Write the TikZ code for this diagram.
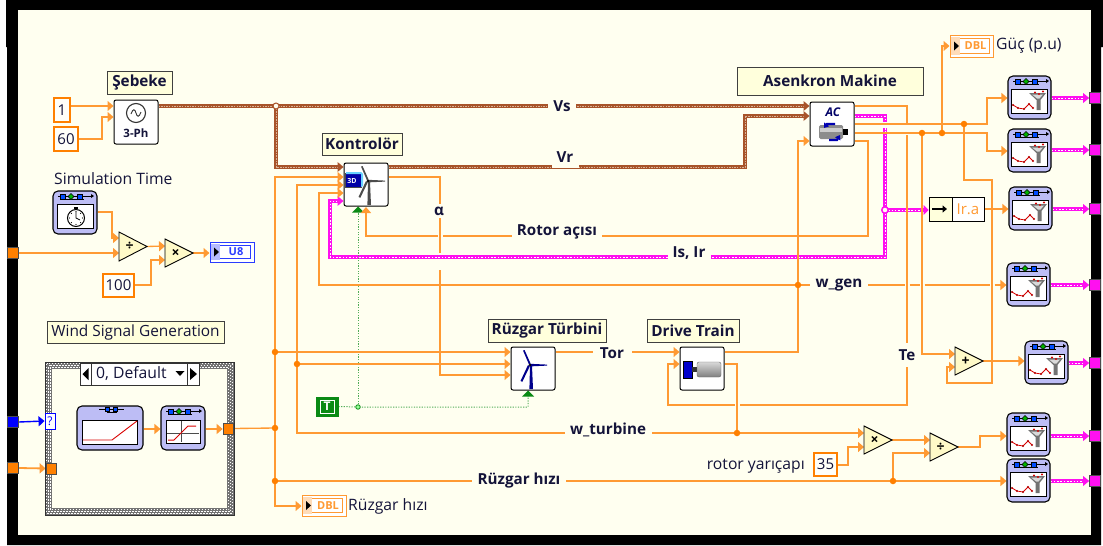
\documentclass[tikz,border=0pt]{standalone}
\usepackage{fontspec}
\setmainfont{Open Sans}
\usetikzlibrary{arrows.meta}
\pgfdeclarelayer{bgl}\pgfdeclarelayer{wires}\pgfsetlayers{bgl,wires,main}
\definecolor{bgc}{HTML}{FFFFF0}
\definecolor{wirec}{HTML}{FF9A33}
\definecolor{termc}{HTML}{FF8000}
\definecolor{brownc}{HTML}{A8542A}
\definecolor{magc}{HTML}{FF10F0}
\definecolor{greenc}{HTML}{0A8A14}
\definecolor{inkc}{HTML}{14143A}
\definecolor{vic}{HTML}{BDBDF5}
\definecolor{lblc}{HTML}{FFFFDC}
\definecolor{primc}{HTML}{FFFAC8}
\definecolor{u8c}{HTML}{2A3CFF}
\tikzset{
 x=1pt,y=-1pt,
 every node/.style={inner sep=0pt,text=inkc},
 wire/.style={draw=wirec,line width=1.35pt,line join=miter},
 arr/.style={-{Triangle[length=6pt,width=10pt,sep=0pt]}},
 brownwire/.style={draw=brownc,line width=3.8pt,postaction={draw=bgc!55!brownc,line width=1pt,dash pattern=on 1.5pt off 1.1pt}},
 magwire/.style={draw=magc,line width=3.8pt,postaction={draw=white,line width=.9pt,dash pattern=on 1.5pt off 1.8pt}},
 greenwire/.style={draw=greenc!70!white,line width=1pt,dash pattern=on 1.2pt off 1.4pt},
 dot/.style={circle,fill=termc,minimum size=6.5pt},
 wlabel/.style={fill=bgc,font=\bfseries\fontsize{15.2}{16}\selectfont,inner xsep=3pt,inner ysep=2pt},
 plain/.style={font=\fontsize{15.7}{17}\selectfont},
 boxlabel/.style={draw=black!75,line width=1pt,fill=lblc,font=\bfseries\fontsize{15.3}{16}\selectfont},
 constbox/.style={draw=termc,line width=2.4pt,fill=bgc!40!white,font=\fontsize{15}{16}\selectfont,text=inkc},
 prim/.style={draw=black,line width=1pt,fill=white,rounded corners=2pt},
 vibox/.style={draw=black,line width=1.1pt,fill=vic,rounded corners=5pt},
 terminal/.style={draw=black!70,line width=.7pt,minimum size=11pt},
}
\newcommand\bx[7][]{\node[#1,minimum width={(#5-#3)*1pt},minimum height={(#6-#4)*1pt}] (#2) at ({(#3+#5)/2},{(#4+#6)/2}) {#7};}
\newcommand\vistrip{%
 \draw[line width=.8pt] (5,5)--(38,5);
 \fill (38,3)--(41,5)--(38,7)--cycle;
 \draw[line width=.7pt] (13,8)--(31,8);
 \draw[fill=blue!70!cyan,line width=.5pt] (7,3) rectangle (12,8);
 \draw[fill=blue!70!cyan,line width=.5pt] (24,3) rectangle (29,8);
 \draw[fill=green!70!black,line width=.4pt] (18,2.5)--(21,5.5)--(18,8.5)--(15,5.5)--cycle;
}
\newcommand\filtervi[3]{%
 \bx[vibox]{#1}{#2}{#3}{#2+43}{#3+43}{}
 \begin{scope}[shift={(#2,#3)}]
  \vistrip
  \draw[black,fill=white,line width=.8pt] (3.5,13) rectangle (39.5,37.5);
  \draw[red!85!black,line width=.8pt] (5,29)--(10,32)--(16,33)--(21,28)--(25,32);
  \foreach \p in {(5,29),(10,32),(16,33),(21,28),(25,32)} \fill[red!70!black] \p circle (1.1pt);
  \fill[black!55] (21,17)--(38,17)--(32.5,24)--(32.5,34)--(28.5,34)--(28.5,24)--cycle;
  \fill[black!15] (24,18.5)--(35,18.5)--(31.5,22.5)--(29,22.5)--cycle;
  \fill[red!85!black] (27,16.5) circle (1.1pt) (35,15.5) circle (1.1pt) (31,18) circle (1.1pt);
 \end{scope}}
\newcommand\blades[3]{%
 \fill[#3] (#1,#2)++(-1,-.5)--++(-6,-14)--++(1.6,-.4)--++(6,13.5)--cycle;
 \fill[#3] (#1,#2)++(0,-1.2)--++(17,.8)--++(0,1)--++(-17,.8)--cycle;
 \fill[#3] (#1,#2)++(-2,0)--++(-7.5,16)--++(1.8,.8)--++(7.5,-15.5)--cycle;
 \fill[#3] (#1,#2)++(0,1)--++(2,0)--++(1,23)--++(-3.6,0)--cycle;
 \fill[black] (#1,#2) circle (1.4pt);
}
\newcommand\numind[7]{%
 \bx[draw=#6,line width=1pt,fill=white]{#1}{#2}{#3}{#2+#4}{#3+#5}{}
 \draw[#6,line width=1pt,fill=white] (#2+3,#3+3.5) rectangle (#2+#4-4,#3+#5-3.5);
 \fill[#6!35!white] (#2+1,#3+2) rectangle (#2+10,#3+#5-2);
 \fill[black] (#2+4,#3+#5/2-4.5)--(#2+9,#3+#5/2)--(#2+4,#3+#5/2+4.5)--cycle;
 \node[font=\bfseries\fontsize{11}{12}\selectfont,text=#6] at (#2+#4/2+4,#3+#5/2) {#7};
}
\newcommand\primtri[6]{%
 \fill[primc,draw=black,line width=.9pt,line join=miter] (#2,#3)--(#2,#3+#4)--(#2+28,#3+#4/2)--cycle;
 \node[font=\bfseries\fontsize{14}{14}\selectfont,text=black] (#1) at (#2+10.5,#3+#4/2) {#5};
 \coordinate (#1-w) at (#2,#3+#4/2);
 \coordinate (#1-e) at (#2+28,#3+#4/2);
}
\begin{document}
\begin{tikzpicture}
\useasboundingbox (0,0) rectangle (1103,546);
\begin{pgfonlayer}{bgl}
\fill[white] (0,0) rectangle (1103,546);
\fill[black] (6,0)--(1103,0)--(1103,47)--(1101,47)--(1101,545)--(7,545)--(7,47)--(6,47)--cycle;
\fill[bgc] (18,10) rectangle (1091,535);
\end{pgfonlayer}

\bx[boxlabel]{lseb}{107}{71}{172}{94}{Şebeke}
\bx[boxlabel]{lkon}{322}{133}{402}{155}{Kontrolör}
\bx[boxlabel]{lasy}{737}{67}{923}{95}{Asenkron Makine}
\bx[boxlabel]{ltur}{488}{319}{606}{342}{Rüzgar Türbini}
\bx[boxlabel]{ldrv}{647}{319}{739}{342}{Drive Train}
\bx[draw=black!75,line width=1pt,fill=lblc,font=\fontsize{15.4}{16}\selectfont]{lwind}{47}{321}{224}{343}{Wind Signal Generation}

\bx[constbox]{c1}{54}{98}{70}{122}{1}
\bx[constbox]{c60}{54}{127}{78}{151}{60}
\bx[constbox]{c100}{103}{274}{134}{297}{100}
\bx[constbox]{c35}{814}{453}{837}{476}{35}

\bx[prim]{grid}{114}{100}{158}{144}{}
\draw[black!80,line width=1.1pt] (136,113) circle (9.5);
\draw[black!80,line width=.9pt] (131,114) .. controls (133,108) and (135,109) .. (136,113) .. controls (137,117) and (139,118) .. (141,112);
\node[font=\bfseries\fontsize{11.5}{12}\selectfont] (gridt) at (136,133) {3-Ph};

\bx[prim]{kon}{344}{163}{388}{206}{}
\blades{368}{181}{black!70}
\fill[blue!65!black,draw=black!70,line width=.5pt] (345,173) rectangle (361,187);
\fill[blue!30!cyan!60!white] (346,172)--(361,172)--(363,174)--(363,186)--(361,187)--(361,174)--(346,174)--cycle;
\node[font=\bfseries\fontsize{7}{7}\selectfont,text=white] (kont) at (352,181) {3D};

\bx[prim]{ac}{810}{102}{854}{146}{}
\node[font=\bfseries\itshape\fontsize{12}{12}\selectfont,text=blue!40!black] (act) at (833,112) {AC};
\fill[black!45,rounded corners=1.5pt] (819,125) rectangle (843,139);
\fill[black!20] (820,128) rectangle (842,132);
\fill[black] (843,129) rectangle (848,135);
\draw[blue!70!black,line width=2.2pt,-{Triangle[length=4.5pt,width=6pt]}] (835,124)--(827,124)--(824,128);
\draw[blue!70!black,line width=2.2pt,-{Triangle[length=4.5pt,width=6pt]}] (829,140)--(837,140)--(840,135);

\bx[prim]{tur}{511}{347}{555}{390}{}
\blades{530}{365}{blue!55!black}

\bx[prim]{drv}{680}{347}{724}{390}{}
\fill[blue!80!black,draw=black,line width=.6pt] (683,361) rectangle (692,378);
\fill[black!80] (692,367) rectangle (698,372);
\shade[top color=black!15,bottom color=black!50,rounded corners=2pt,draw=black!60] (697,362) rectangle (721,377);

\bx[vibox]{timer}{53}{191}{97}{234}{}
\begin{scope}[shift={(53,191)}]
 \vistrip
 \draw[fill=white,line width=.8pt] (4,13.5) rectangle (40,37.5);
 \draw[fill=white,line width=1pt] (23,27) circle (8.5);
 \fill (21,15.5) rectangle (25,17.5);
 \draw[line width=.8pt] (23,21)--(23,27)--(27,29);
 \foreach \a in {0,45,...,315} \fill (23,27)++(\a:6.5) circle (.6pt);
\end{scope}
\node[plain,anchor=west] (simt) at (54,179) {Simulation Time};

\primtri{dv}{119}{232}{29}{÷}{}
\primtri{mu}{165}{239}{28}{×}{}
\primtri{mt}{864}{426}{28}{×}{}
\primtri{dt}{930}{433}{28}{÷}{}
\primtri{pl}{955}{347}{28}{+}{}

\numind{u8}{210}{242}{44}{20}{u8c}{U8}
\numind{dblw}{302}{495}{44}{21}{wirec}{DBL}
\numind{dblp}{950}{35}{43}{22}{wirec}{DBL}
\node[plain,anchor=west] (tw) at (348,506) {Rüzgar hızı};
\node[plain,anchor=west] (tp) at (996,46) {Güç (p.u)};
\node[plain,anchor=east] (try) at (805,466) {rotor yarıçapı};

\bx[draw=black,line width=1pt,fill=white]{ira}{929}{197}{984}{221}{}
\fill[lblc,draw=black,line width=.8pt] (929,197) rectangle (952,221);
\draw[black,line width=2pt,-{Triangle[length=4.5pt,width=7pt]}] (932,209)--(947,209);
\node[font=\fontsize{15}{16}\selectfont,text=wirec] (irat) at (968,209) {Ir.a};

\filtervi{f1}{1008}{76}
\filtervi{f2}{1008}{129}
\filtervi{f3}{1009}{187}
\filtervi{f4}{1007}{263}
\filtervi{f5}{1025}{341}
\filtervi{f6}{1007}{413}
\filtervi{f7}{1007}{459}

\foreach \n/\y in {t1/98,t2/150,t3/209,t4/285,t5/363,t6/436,t7/481}
  \node[terminal,fill=magc] (\n) at (1095,\y) {};
\node[terminal,fill=termc] (tl1) at (13,253) {};
\node[terminal,fill=blue] (tl2) at (13,422) {};
\node[terminal,fill=termc] (tl3) at (13,468) {};

\bx[draw=black,line width=1pt]{case}{45}{362}{234}{515}{}
\draw[black!55,line width=6.5pt] (48.5,365.5) rectangle (230.5,511.5);
\draw[white,line width=1.3pt,dash pattern=on 1.5pt off 1.5pt] (46.8,363.8) rectangle (232.2,513.2);
\draw[white,line width=1.3pt,dash pattern=on 1.5pt off 1.5pt,dash phase=1.5pt] (48.5,365.5) rectangle (230.5,511.5);
\draw[white,line width=1.3pt,dash pattern=on 1.5pt off 1.5pt] (50.2,367.2) rectangle (228.8,509.8);
\draw[black!80,line width=.9pt] (45,362) rectangle (234,515);
\bx[draw=black!80,line width=1pt,fill=white]{sel}{80}{363}{199}{385}{}
\draw[black!80,line width=.8pt] (91,363)--(91,385) (187,363)--(187,385);
\node[plain,anchor=west] (selt) at (96,374) {0, Default};
\fill (88.5,368)--(88.5,380)--(82.5,374)--cycle;
\fill (190,368)--(190,380)--(197,374)--cycle;
\fill (175.5,371)--(184.5,371)--(180,376)--cycle;

\bx[draw=blue,line width=.9pt,fill=white,font=\fontsize{12}{12}\selectfont,text=blue]{tq}{45}{413}{55}{429}{?}
\bx[terminal,fill=termc]{ts}{46}{463}{56}{474}{}
\bx[terminal,fill=termc]{to}{223}{423}{233}{434}{}

\bx[vibox]{ramp}{77}{406}{143}{450}{}
\begin{scope}[shift={(77,406)}]
 \draw[line width=.8pt] (22,3)--(47,3) (30,6)--(40,6);
 \draw[fill=blue!70!cyan,line width=.4pt] (28,1) rectangle (32,5);
 \draw[fill=blue!70!cyan,line width=.4pt] (36,1) rectangle (40,5);
 \draw[fill=white,line width=.8pt] (5,14) rectangle (60,38);
 \draw[red!85!black,line width=.9pt] (6,34)--(35,34)--(60,15);
\end{scope}
\bx[vibox]{sat}{161}{406}{205}{450}{}
\begin{scope}[shift={(161,406)}]
 \vistrip
 \draw[fill=white,line width=.8pt] (5,14) rectangle (39,37);
 \draw[black!70,line width=.8pt] (6,27)--(38,27) (20,15)--(20,36);
 \draw[red!85!black,line width=1pt] (7,34)--(13,34)--(27,20)--(35,20);
\end{scope}

\bx[draw=greenc,line width=1pt,fill=greenc]{tc}{316}{397}{338}{416}{}
\bx[draw=white,line width=.9pt,fill=greenc,font=\bfseries\fontsize{12}{12}\selectfont,text=white]{tci}{320}{400}{334}{413}{T}

\node[dot] (j275a) at (275,352) {};
\node[dot] (j275b) at (275,428) {};
\node[dot] (j275c) at (275,481) {};
\node[dot] (j297) at (297,364) {};
\node[dot] (jgen) at (798,285) {};
\node[dot] (jturb) at (737,433) {};
\node[dot] (jwind) at (893,481) {};
\node[dot] (jp1) at (964,124) {};
\node[dot] (jp2) at (922,133) {};
\node[dot] (jp3) at (942,133) {};
\node[circle,draw=brownc,line width=1pt,fill=bgc,minimum size=6pt] (jgrid) at (276,106) {};
\node[circle,draw=magc,line width=1.5pt,fill=bgc,minimum size=6.5pt] (jI) at (885,210) {};
\node[circle,draw=greenc,line width=.8pt,fill=green!40!white,minimum size=4.5pt] (jT) at (358,407) {};

\node[wlabel,minimum width=28pt,minimum height=18pt] (Vs) at (562,106) {Vs};
\node[wlabel,minimum width=27pt,minimum height=21pt] (Vr) at (565,157) {Vr};
\node[wlabel,inner ysep=3pt,inner xsep=4pt] (al) at (439,211) {α};
\node[wlabel,minimum width=90pt,minimum height=20pt] (ro) at (557,232) {Rotor açısı};
\node[wlabel,minimum width=43pt,minimum height=20pt] (isr) at (689,253) {Is, Ir};
\node[wlabel,minimum width=39pt] (tor) at (612,353) {Tor};
\node[wlabel,minimum width=87pt,minimum height=20pt] (wtb) at (608,430) {w\_turbine};
\node[wlabel,minimum width=94pt] (rh) at (519,481) {Rüzgar hızı};
\node[wlabel,minimum width=58pt,minimum height=16pt] (wg) at (839,285) {w\_gen};
\node[wlabel,minimum height=24pt,inner xsep=2pt] (te) at (907,355) {Te};

\begin{pgfonlayer}{wires}
 \draw[brownwire] (grid.east |- 0,106) -- (jgrid.center) -- (804,106);
 \draw[brownwire] (jgrid.center) -- (276,167) -- (338,167);
 \draw[brownwire] (kon.east |- 0,167) -- (745,167) -- (745,116) -- (804,116);
 \fill[brownc] (kon.west |- 0,167) -- ++(-6,-5) -- ++(0,10) -- cycle;
 \fill[brownc] (ac.west |- 0,106) -- ++(-6,-5) -- ++(0,10) -- cycle;
 \fill[brownc] (ac.west |- 0,116) -- ++(-6,-5) -- ++(0,10) -- cycle;
 \draw[magwire] (ac.east |- 0,116) -- (885,116) -- (885,122);
 \draw[magwire] (885,128) -- (jI.center) -- (885,257) -- (330,257) -- (330,201) -- (338,201);
 \draw[magwire] (jI.center) -- (924,210);
 \fill[magc] (kon.west |- 0,201) -- ++(-6,-5) -- ++(0,10) -- cycle;
 \fill[magc] (ira.west |- 0,210) -- ++(-5,-5) -- ++(0,10) -- cycle;
 \foreach \f/\t/\y in {f1/t1/98,f2/t2/150,f3/t3/209,f4/t4/285,f5/t5/363,f6/t6/436,f7/t7/481}{
  \draw[magwire] (\f.east |- 0,\y) -- ([xshift=-5pt]\t.west);
  \fill[magc] (\t.west) -- ++(-6,-5) -- ++(0,10) -- cycle;
 }
 \draw[draw=blue,line width=1.4pt,arr] (tl2.east) -- (tq.west);
 \draw[greenwire] (tc.east) -- (jT.center) -- (528,407) -- (528,396);
 \draw[greenwire] (jT.center) -- (358,212);
 \fill[greenc] (358,206.5) -- ++(-6,6) -- ++(12,0) -- cycle;
 \fill[greenc] (528,390.5) -- ++(-6,6) -- ++(12,0) -- cycle;
 \draw[wire,arr] (c1.east |- 0,106) -- (grid.west |- 0,106);
 \draw[wire,arr] (c60.east |- 0,139) -- (102,139) -- (102,117) -- (grid.west |- 0,117);
 \draw[wire,arr] (timer.east |- 0,212) -- (112,212) -- (112,238) -- (dv-w |- 0,238);
 \draw[wire,arr] (tl1.east) -- (dv-w |- 0,253);
 \draw[wire,arr] (dv-e) -- (mu-w |- 0,246);
 \draw[wire,arr] (c100.east |- 0,285) -- (151,285) -- (151,260) -- (mu-w |- 0,260);
 \draw[wire,arr] (mu-e) -- (u8.west |- 0,253);
 \draw[wire,line width=1.8pt,arr] (tl3.east) -- (ts.west);
 \draw[wire,arr] (ramp.east |- 0,429) -- (sat.west |- 0,429);
 \draw[wire,arr] (sat.east |- 0,429) -- (to.west |- 0,429);
 \draw[wire] (to.east) -- (j275b.center);
 \draw[wire,arr] (j275a.center) -- (275,177) -- (kon.west |- 0,177);
 \draw[wire] (j275a.center) -- (j275b.center) -- (j275c.center);
 \draw[wire,arr] (j275c.center) -- (275,506) -- (dblw.west |- 0,506);
 \draw[wire,arr] (j275a.center) -- (tur.west |- 0,352);
 \draw[wire,arr] (j297.center) -- (tur.west |- 0,364);
 \draw[wire,arr] (j297.center) -- (297,185) -- (kon.west |- 0,185);
 \draw[wire] (j297.center) -- (297,433) -- (jturb.center);
 \draw[wire,arr] (jturb.center) -- (mt-w |- 0,433);
 \draw[wire,arr] (jgen.center) -- (319,285) -- (319,193) -- (kon.west |- 0,193);
 \draw[wire] (jgen.center) -- (904.5,285) (909.5,285) -- (919.5,285) (924.5,285) -- (989.5,285);
 \draw[wire,arr] (994.5,285) -- (f4.west |- 0,285);
 \draw[wire] (kon.east |- 0,177) -- (440,177) -- (440,253);
 \draw[wire,arr] (440,270) -- (440,375) -- (tur.west |- 0,375);
 \draw[wire,arr] (ac.east |- 0,141) -- (868,141) -- (868,236) -- (442.5,236) (437.5,236) -- (366,236) -- (366,207);
 \draw[wire,arr] (tur.east |- 0,352) -- (drv.west |- 0,352);
 \draw[wire,arr] (drv.east |- 0,352) -- (798,352) -- (jgen.center) -- (798,141) -- (ac.west |- 0,141);
 \draw[wire] (ac.east |- 0,106) -- (907,106) -- (907,123);
 \draw[wire,arr] (907,135) -- (907,405) -- (739.5,405) (734.5,405) -- (668,405) -- (668,364) -- (drv.west |- 0,364);
 \draw[wire] (drv.east |- 0,364) -- (737,364) -- (jturb.center);
 \draw[wire] (ac.east |- 0,124) -- (jp1.center);
 \draw[wire,arr] (jp1.center) -- (987,124) -- (987,98) -- (f1.west |- 0,98);
 \draw[wire] (ac.east |- 0,133) -- (jp2.center) -- (jp3.center);
 \draw[wire,arr] (jp3.center) -- (987,133) -- (987,151) -- (f2.west |- 0,151);
 \draw[wire,arr] (jp3.center) -- (942,46) -- (dblp.west |- 0,46);
 \draw[wire,arr] (jp2.center) -- (922,354) -- (pl-w |- 0,354);
 \draw[wire,arr] (jp1.center) -- (964,180) -- (992,180) -- (992,383) -- (947,383) -- (947,367) -- (pl-w |- 0,367);
 \draw[wire,arr] (pl-e) -- (f5.west |- 0,361);
 \draw[wire,arr] (ira.east |- 0,209) -- (f3.west |- 0,209);
 \draw[wire] (j275c.center) -- (jwind.center);
 \draw[wire,arr] (jwind.center) -- (f7.west |- 0,481);
 \draw[wire,arr] (jwind.center) -- (893,453) -- (dt-w |- 0,453);
 \draw[wire,arr] (c35.east |- 0,465) -- (848,465) -- (848,447) -- (mt-w |- 0,447);
 \draw[wire,arr] (mt-e) -- (dt-w |- 0,440);
 \draw[wire,arr] (dt-e) -- (980,447) -- (980,436) -- (f6.west |- 0,436);
\end{pgfonlayer}
\end{tikzpicture}
\end{document}
